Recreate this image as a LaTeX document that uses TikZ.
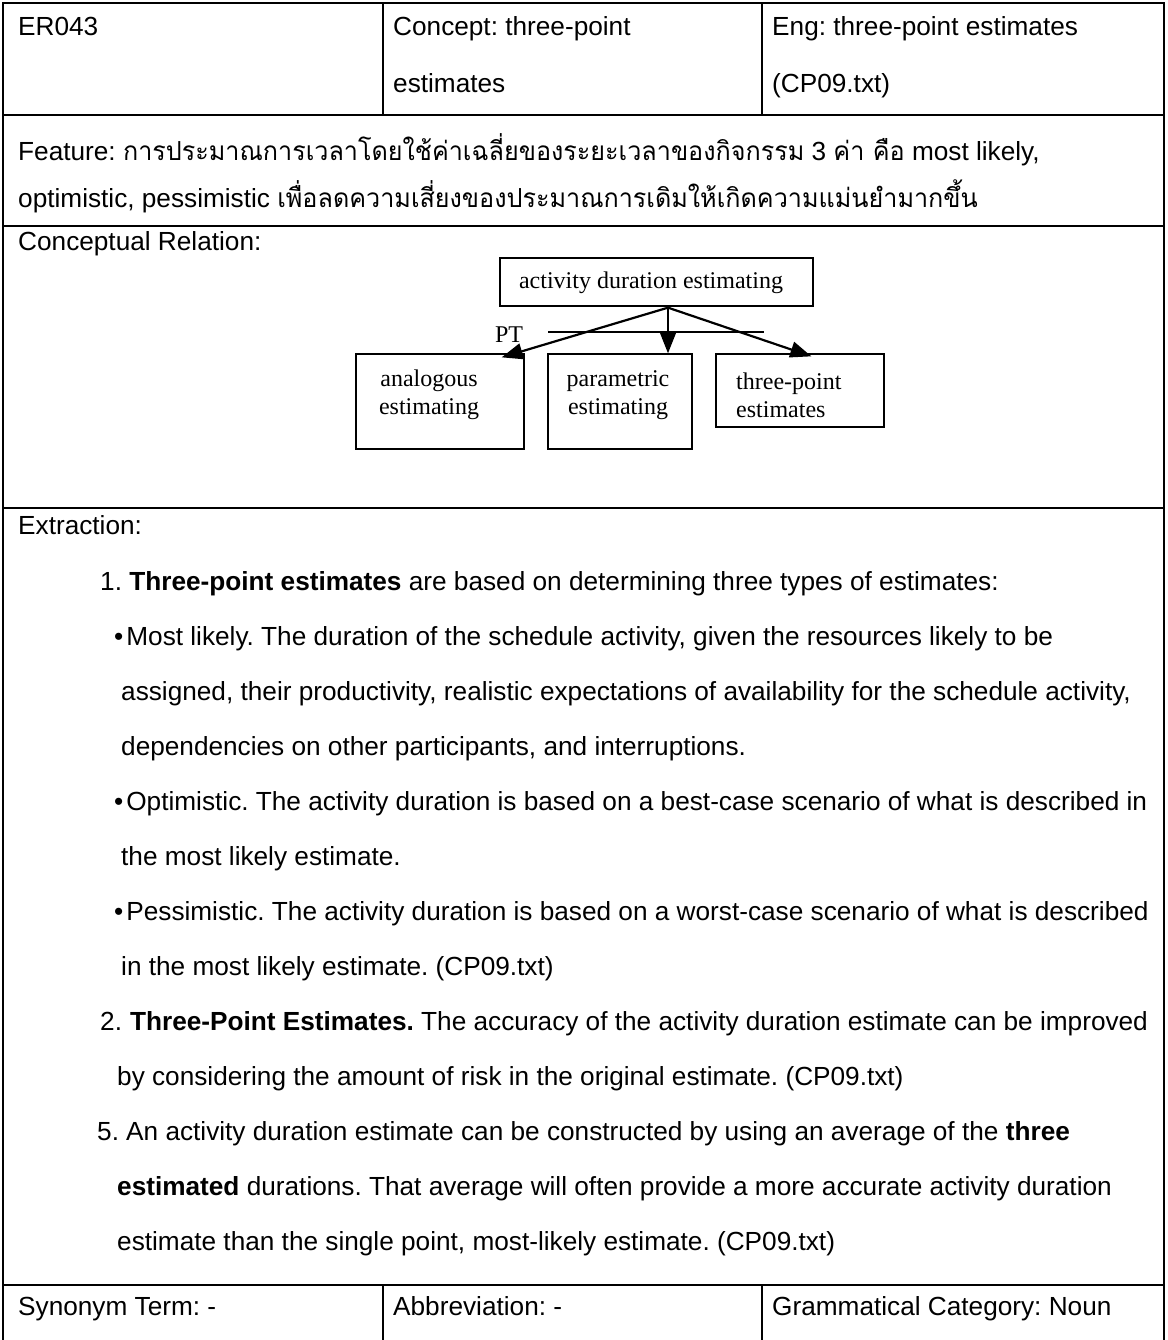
\documentclass[tikz,border=0pt]{standalone}
\usepackage{fontspec}
\setmainfont{Liberation Sans}
\newfontfamily\thaifont[Script=Thai,FakeStretch=0.96]{Loma}
\newfontfamily\diagfont{Liberation Serif}
\usetikzlibrary{arrows.meta,calc}

\tikzset{
  txt/.style={anchor=mid west, inner sep=0pt, font=\fontsize{26.2}{30}\selectfont},
  rowrule/.style={line width=2.6pt},
  colrule/.style={line width=1.6pt},
  dbox/.style={draw, line width=1.3pt, inner sep=0pt},
  dtxt/.style={inner sep=0pt, font=\diagfont\fontsize{24}{28}\selectfont},
  ptarrow/.style={line width=2.2pt, -{Triangle[length=21pt,width=16pt]}},
}

\begin{document}
\frenchspacing
\begin{tikzpicture}[x=1pt,y=-1pt]
\useasboundingbox (0,0) rectangle (1167,1340);

% ---- table frame ----
\draw[rowrule] (3,1340) -- (3,3) -- (1164,3) -- (1164,1340);
\draw[rowrule] (3,115) -- (1164,115);
\draw[rowrule] (3,226) -- (1164,226);
\draw[rowrule] (3,508) -- (1164,508);
\draw[rowrule] (3,1285) -- (1164,1285);
\draw[colrule] (383,3) -- (383,115);
\draw[colrule] (762,3) -- (762,115);
\draw[colrule] (383,1285) -- (383,1340);
\draw[colrule] (762,1285) -- (762,1340);

% ---- header row ----
\node[txt] (id)   at (18,33)  {ER043};
\node[txt] (con1) at (393,33) {Concept: three-point};
\node[txt] (con2) at (393,90) {estimates};
\node[txt] (eng1) at (772,33) {Eng: three-point estimates};
\node[txt] (eng2) at (772,90) {(CP09.txt)};

% ---- feature row ----
\node[txt] (feat1) at (18,158) {Feature: {\thaifont การประมาณการเวลาโดยใช้ค่าเฉลี่ยของระยะเวลาของกิจกรรม} 3 {\thaifont ค่า คือ} most likely,};
\node[txt] (feat2) at (18,205) {optimistic, pessimistic {\thaifont เพื่อลดความเสี่ยงของประมาณการเดิมให้เกิดความแม่นยำมากขึ้น}};

% ---- conceptual relation ----
\node[txt] (crel) at (18,248) {Conceptual Relation:};

\node[dbox, minimum width=313pt, minimum height=48pt] (top) at (656.5,282) {};
\node[dtxt] (toptxt) at (651,283) {activity duration estimating};

\node[dbox, minimum width=168pt, minimum height=95pt] (ana) at (440,401.5) {};
\node[dtxt, align=center] (anatxt) at (429,395) {analogous\\estimating};

\node[dbox, minimum width=144pt, minimum height=95pt] (par) at (620,401.5) {};
\node[dtxt, align=center] (partxt) at (618,395) {parametric\\estimating};

\node[dbox, minimum width=168pt, minimum height=73pt] (thr) at (800,390.5) {};
\node[dtxt, align=left, anchor=west] (thrtxt) at (736,395) {three-point\\estimates};

\coordinate (fork) at ($(top.south)+(11.5,1)$);
\coordinate (ptl) at (548,332);
\coordinate (ptr) at (764,332);
\draw[line width=1.3pt] (ptl) -- (ptr);
\node[dtxt] (ptlabel) at (509,335) {PT};

\draw[ptarrow] (fork) -- ($(ana.north east)+(-23,4)$);
\draw[ptarrow] (fork) -- (fork |- par.north);
\draw[ptarrow] (fork) -- ($(thr.north west)+(96,3)$);

% ---- extraction ----
\node[txt] (ext) at (18,532) {Extraction:};
\node[txt] (e1)  at (100,588)  {1. \textbf{Three-point estimates} are based on determining three types of estimates:};
\node[txt] (e2)  at (114,643)  {•\hspace{3pt}Most likely. The duration of the schedule activity, given the resources likely to be};
\node[txt] (e3)  at (121,698)  {assigned, their productivity, realistic expectations of availability for the schedule activity,};
\node[txt] (e4)  at (121,753)  {dependencies on other participants, and interruptions.};
\node[txt] (e5)  at (114,808)  {•\hspace{3pt}Optimistic. The activity duration is based on a best-case scenario of what is described in};
\node[txt] (e6)  at (121,863)  {the most likely estimate.};
\node[txt] (e7)  at (114,918)  {•\hspace{3pt}Pessimistic. The activity duration is based on a worst-case scenario of what is described};
\node[txt] (e8)  at (121,973)  {in the most likely estimate. (CP09.txt)};
\node[txt] (e9)  at (100,1028) {2.\hspace{8pt}\textbf{Three-Point Estimates.} The accuracy of the activity duration estimate can be improved};
\node[txt] (e10) at (117,1083) {by considering the amount of risk in the original estimate. (CP09.txt)};
\node[txt] (e11n) at (97,1138) {5.};
\node[txt] (e11) at (126,1138) {An activity duration estimate can be constructed by using an average of the \textbf{three}};
\node[txt] (e12) at (117,1193) {\textbf{estimated} durations. That average will often provide a more accurate activity duration};
\node[txt] (e13) at (117,1248) {estimate than the single point, most-likely estimate. (CP09.txt)};

% ---- bottom row ----
\node[txt] (syn)  at (18,1313)  {Synonym Term: -};
\node[txt] (abbr) at (393,1313) {Abbreviation: -};
\node[txt] (gram) at (772,1313) {Grammatical Category: Noun};
\end{tikzpicture}
\end{document}
